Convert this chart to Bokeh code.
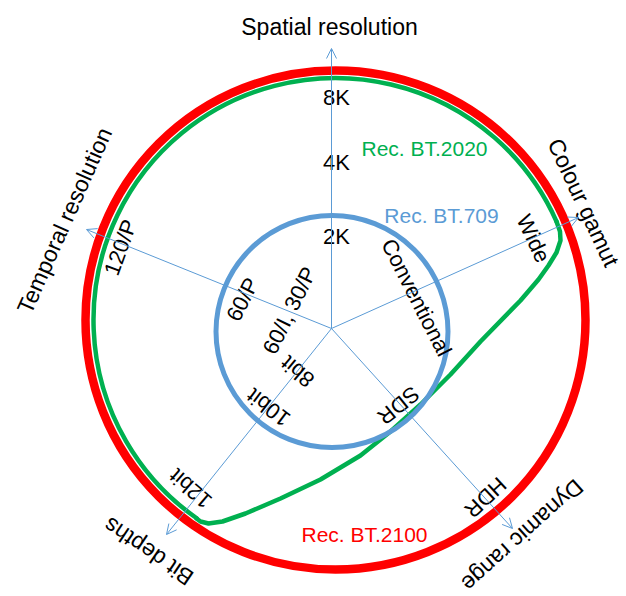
import numpy as np
from bokeh.plotting import figure
from bokeh.models import Range1d, Arrow, OpenHead, ColumnDataSource
from bokeh.core.properties import value
from bokeh.embed import file_html
from bokeh.resources import INLINE

W, H = 626, 596

# ---------------- chart content ----------------
axis_names = ["Spatial resolution", "Colour gamut", "Dynamic range", "Bit depths", "Temporal resolution"]
spatial_ticks = ["2K", "4K", "8K"]
gamut_ticks = ["Conventional", "Wide"]
range_ticks = ["SDR", "HDR"]
bit_ticks = ["8bit", "10bit", "12bit"]
temporal_ticks = ["60/I, 30/P", "60/P", "120/P"]
standards = ["Rec. BT.709", "Rec. BT.2020", "Rec. BT.2100"]

# ---------------- layout (pixel positions, y measured from top) ----------------
center_px = (331, 328)
axis_tip_px = [(331, 48), (578, 217), (512, 528), (166, 534), (86, 229)]
axis_title_pos = [(329, 26, 0), (583, 202, -65), (522, 535, -138), (148, 551, 146), (64, 220, 66)]

tick_pos = {
    "spatial": [(336, 236, 0), (336, 162, 0), (336, 97, 0)],
    "gamut": [(416, 297, -63), (533, 238, -65)],
    "range": [(398, 405, -141), (485, 497, -137)],
    "bit": [(297, 371, 140), (268, 407, 143), (190, 488, 139)],
    "temporal": [(289, 310, 64), (242, 299, 63), (120, 247, 70)],
}
standard_pos = [(441, 215), (424, 148), (364, 534)]

BLUE = "#5B9BD5"
GREEN = "#00B050"
RED = "#FF0000"
standard_colors = [BLUE, GREEN, RED]

# outline shapes (pixel)
blue_circle = dict(cx=331.5, cy=331, r=116)
red_ellipse = dict(cx=335, cy=319.5, w=500, h=499)
green_arc = dict(cx=335, cy=319.5, r=242, a0=24, a1=235)
green_link_x = [556, 559.5, 560, 556, 548, 538, 520, 480, 450, 420, 390, 360, 320, 280, 245, 222, 208, 200, 196]
green_link_y = [221, 231, 240, 252, 265, 279, 300, 341, 374, 404, 431, 455, 479, 498, 513, 521, 523, 521, 518]


def Y(py):
    return H - py


p = figure(width=W, height=H, x_range=Range1d(0, W), y_range=Range1d(0, H),
           output_backend="svg", toolbar_location=None, min_border=0,
           x_axis_location=None, y_axis_location=None)
p.grid.visible = False
p.outline_line_color = None
p.background_fill_color = "white"

# axes with arrows
cx, cy = center_px
for tx, ty in axis_tip_px:
    p.add_layout(Arrow(end=OpenHead(size=10, line_color=BLUE, line_width=1),
                       x_start=cx, y_start=Y(cy), x_end=tx, y_end=Y(ty),
                       line_color=BLUE, line_width=1))

# Rec. BT.2100 (red)
p.ellipse(x=[red_ellipse["cx"]], y=[Y(red_ellipse["cy"])], width=red_ellipse["w"], height=red_ellipse["h"],
          fill_color=None, line_color=RED, line_width=8.5)

# Rec. BT.2020 (green)
p.arc(x=[green_arc["cx"]], y=[Y(green_arc["cy"])], radius=green_arc["r"],
      start_angle=np.radians(green_arc["a0"]), end_angle=np.radians(green_arc["a1"]),
      direction="anticlock", line_color=GREEN, line_width=4.5, line_cap="round")
p.line(x=green_link_x, y=[Y(v) for v in green_link_y], line_color=GREEN, line_width=4.5,
       line_join="round", line_cap="round")

# Rec. BT.709 (blue)
p.ellipse(x=[blue_circle["cx"]], y=[Y(blue_circle["cy"])], width=2 * blue_circle["r"], height=2 * blue_circle["r"],
          fill_color=None, line_color=BLUE, line_width=5)

# axis titles
src_titles = ColumnDataSource(dict(
    x=[a[0] for a in axis_title_pos], y=[Y(a[1]) for a in axis_title_pos],
    angle=[np.radians(a[2]) for a in axis_title_pos], text=axis_names))
p.text(x="x", y="y", text="text", angle="angle", source=src_titles,
       text_font=value("Liberation Sans"), text_font_size="23px", text_color="black",
       text_align="center", text_baseline="middle")

# tick labels
tx_, ty_, ta_, tt_ = [], [], [], []
for key, labels in [("spatial", spatial_ticks), ("gamut", gamut_ticks), ("range", range_ticks),
                    ("bit", bit_ticks), ("temporal", temporal_ticks)]:
    for lab, pos in zip(labels, tick_pos[key]):
        tx_.append(pos[0]); ty_.append(Y(pos[1])); ta_.append(np.radians(pos[2])); tt_.append(lab)
src_ticks = ColumnDataSource(dict(x=tx_, y=ty_, angle=ta_, text=tt_))
p.text(x="x", y="y", text="text", angle="angle", source=src_ticks,
       text_font=value("Liberation Sans"), text_font_size="22px", text_color="black",
       text_align="center", text_baseline="middle")

# standard labels
src_std = ColumnDataSource(dict(x=[s[0] for s in standard_pos], y=[Y(s[1]) for s in standard_pos],
                                text=standards, color=standard_colors))
p.text(x="x", y="y", text="text", source=src_std, text_color="color",
       text_font=value("Liberation Sans"), text_font_size="21px",
       text_align="center", text_baseline="middle")

open("out.html", "w").write(file_html(p, INLINE))
